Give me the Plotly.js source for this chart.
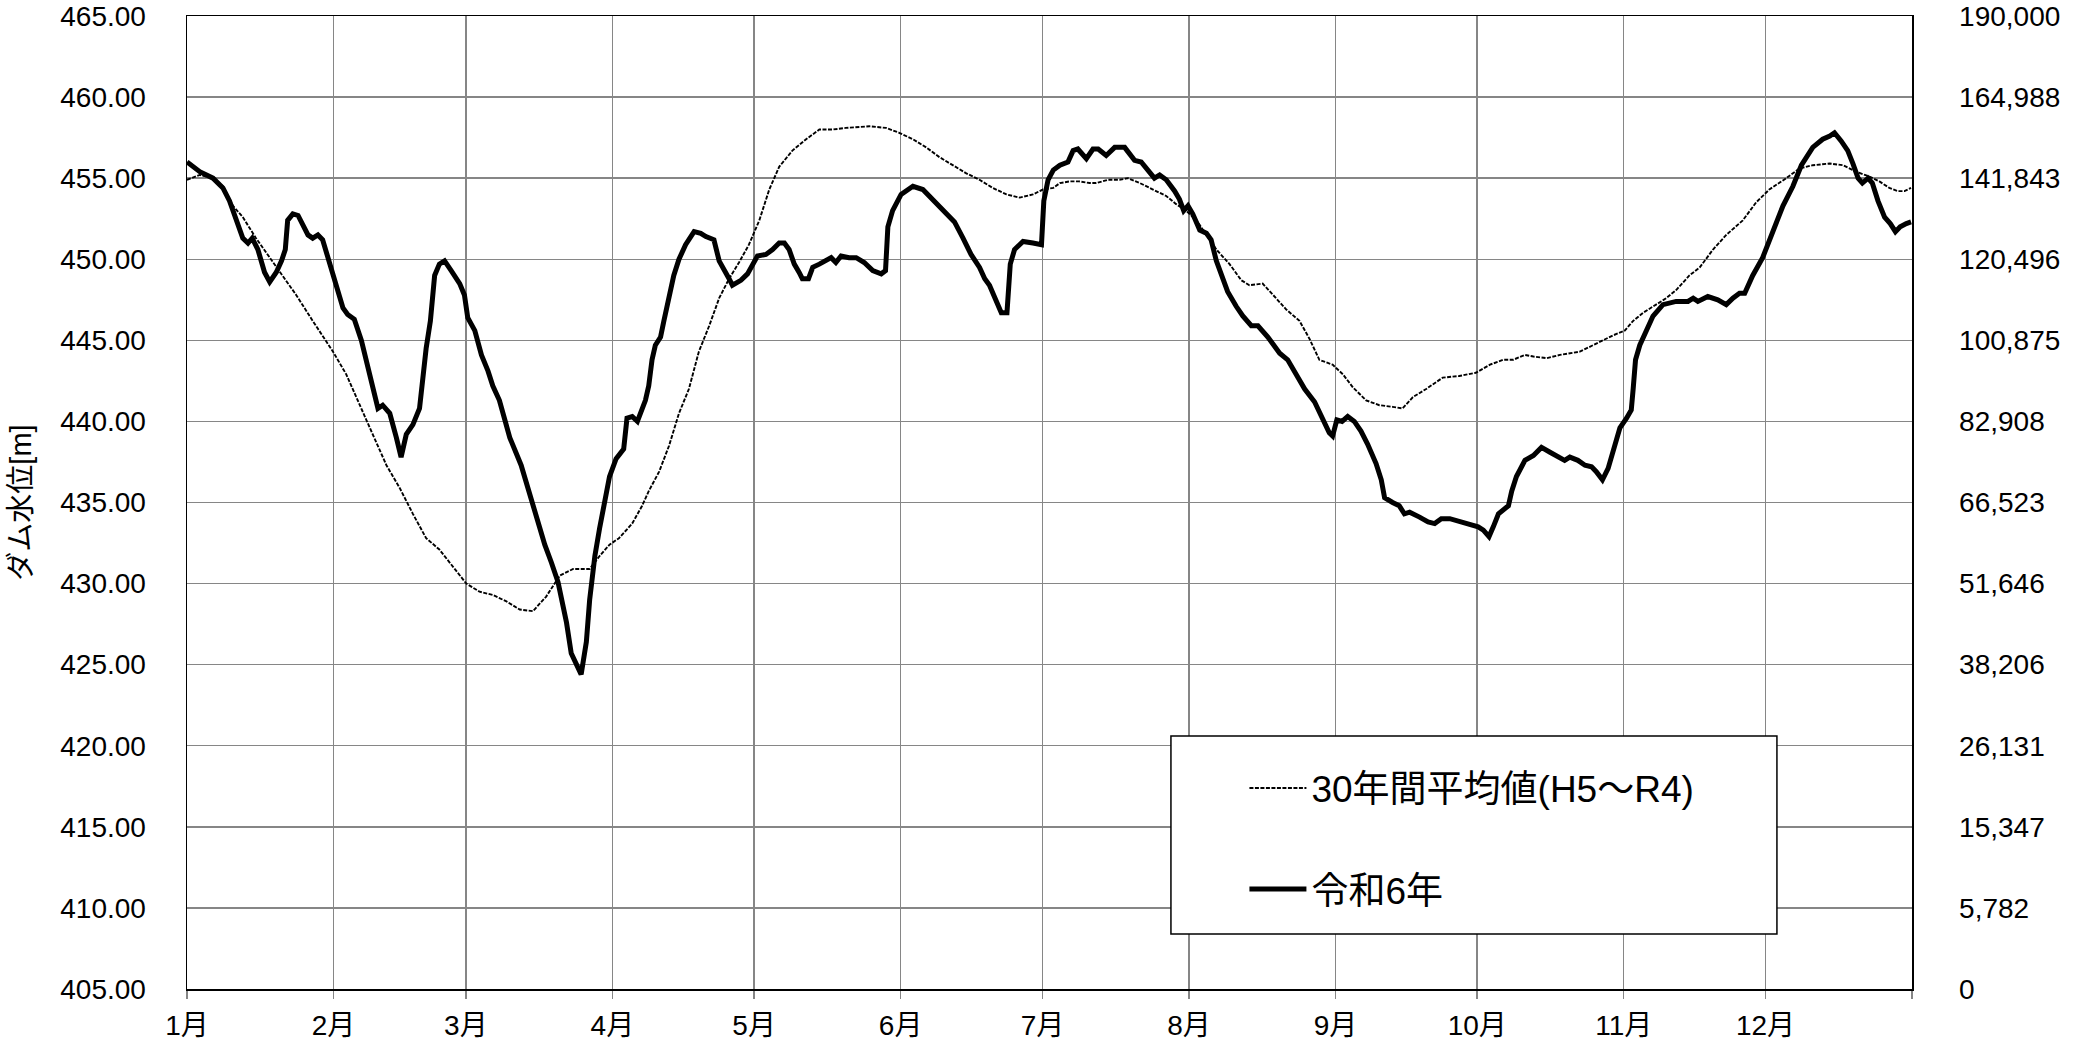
<!DOCTYPE html>
<html>
<head>
<meta charset="utf-8">
<script src="https://cdn.plot.ly/plotly-3.0.1.min.js"></script>
<style>html,body{margin:0;padding:0;background:#fff;}#chart{width:2082px;height:1047px;}</style>
</head>
<body>
<div id="chart"></div>
<script>
// Day index (0 = 1月1日) and dam water level [m]
const avgName = "30年間平均値(H5～R4)";
const avgDays = [0,2.7,5.5,7.6,9.7,11.8,14.6,17.5,19.6,23.1,26.6,30.9,33.7,36.5,39.3,42.2,45.0,47.8,50.6,53.4,56.3,59.1,61.9,64.7,67.6,70.4,73.2,76.0,78.9,81.7,85.2,87.3,89.4,91.4,94.2,96.3,97.7,99.9,102.0,104.1,106.2,108.3,110.5,112.6,114.7,116.8,118.9,121.1,123.2,125.3,128.1,131.0,133.8,136.6,139.4,144.4,147.9,150.7,153.6,156.4,159.2,162.1,164.9,167.7,170.5,173.4,176.2,179.0,181.1,183.3,184.7,186.8,188.8,191.0,192.4,194.9,197.3,199.1,201.6,204.4,207.2,209.3,211.4,213.6,215.7,217.8,220.6,223.1,224.8,227.6,229.8,232.6,235.4,237.5,239.6,242.4,244.6,246.7,249.5,252.3,255.1,257.2,259.4,262.2,265.7,269.2,272.7,275.7,278.5,280.6,283.1,284.9,287.7,290.5,294.7,296.8,299.3,301.7,304.2,306.0,308.1,310.2,313.0,315.1,317.9,320.1,322.9,325.7,329.2,332.0,334.8,338.4,341.2,344.0,347.6,350.4,353.2,356.0,358.1,360.2,362.0,363.4,364.8];
const avgLevel = [454.9,455.2,455.0,454.5,453.3,452.6,451.3,450.1,449.3,447.8,446.2,444.3,442.9,441.0,439.2,437.3,435.9,434.3,432.8,432.1,431.0,430.0,429.5,429.3,428.9,428.4,428.3,429.2,430.5,430.9,430.9,431.7,432.4,432.8,433.7,434.8,435.7,436.9,438.5,440.5,442.0,444.3,445.9,447.6,448.8,449.8,450.9,452.4,454.3,455.7,456.7,457.4,458.0,458.0,458.1,458.2,458.1,457.8,457.4,456.9,456.3,455.8,455.3,454.9,454.4,454.0,453.8,454.0,454.3,454.4,454.7,454.8,454.8,454.7,454.7,454.9,454.9,455.0,454.7,454.3,453.9,453.4,453.0,452.4,451.5,450.6,449.7,448.7,448.4,448.5,447.8,446.9,446.2,445.1,443.8,443.5,442.9,442.1,441.3,441.0,440.9,440.8,441.5,442.0,442.7,442.8,443.0,443.5,443.8,443.8,444.1,444.0,443.9,444.1,444.3,444.6,445.0,445.3,445.6,446.2,446.7,447.1,447.6,448.1,449.0,449.5,450.6,451.5,452.4,453.5,454.3,455.0,455.6,455.8,455.9,455.8,455.4,455.1,454.8,454.4,454.2,454.2,454.4];

const r6Name = "令和6年";
const r6Days = [0,2.7,5.5,7.6,9.0,10.7,11.8,12.9,13.8,15.0,16.4,17.5,18.9,20.0,20.8,21.3,22.4,23.5,24.5,25.6,26.6,27.7,28.7,29.8,31.2,33.0,34.0,35.4,36.9,38.6,40.4,41.4,42.9,44.3,45.3,46.4,47.8,49.2,49.9,50.6,51.5,52.4,53.4,54.5,55.9,57.7,58.7,59.4,60.9,62.3,63.7,64.7,66.1,68.3,70.7,72.1,74.3,75.7,77.1,78.5,80.3,81.3,83.4,84.5,85.2,86.3,87.3,88.4,89.4,90.8,92.4,93.1,94.2,95.3,97.0,97.7,98.4,99.1,100.2,100.9,102.0,103.0,104.1,105.5,107.3,108.7,109.8,111.5,112.6,113.6,114.7,115.4,117.2,118.6,119.6,120.7,122.5,123.9,125.3,126.4,127.4,128.5,129.5,130.2,131.5,132.4,133.8,135.2,136.3,137.3,138.4,140.1,141.6,143.3,145.1,146.9,147.8,148.3,149.3,151.1,153.6,155.7,157.4,159.2,161.0,162.4,164.2,165.9,167.7,168.8,169.8,171.3,172.3,173.5,174.2,175.1,176.9,179.0,180.8,181.3,182.2,183.3,184.7,186.4,187.5,188.5,190.3,191.7,192.8,194.5,196.3,198.4,200.5,201.9,203.3,204.7,205.8,207.2,209.0,210.0,210.9,211.8,212.8,214.3,215.7,216.7,217.8,218.8,220.2,222.0,223.4,225.2,226.6,228.7,231.2,232.9,234.7,236.5,238.6,240.3,241.7,242.4,243.3,244.4,245.6,247.0,248.4,249.8,251.6,252.7,253.4,255.1,256.5,257.6,258.7,260.8,262.6,264.0,265.4,267.2,269.3,271.4,273.2,274.3,275.5,276.4,277.5,279.6,280.3,281.3,283.1,284.9,286.6,288.4,290.1,291.5,292.6,294.3,295.8,297.2,298.2,299.5,300.7,301.7,303.2,304.6,305.6,306.0,306.5,307.4,308.8,310.2,312.3,315.1,317.6,318.7,319.7,321.8,323.9,325.7,327.1,328.5,329.6,331.3,333.4,335.6,337.7,339.8,341.6,344.0,346.1,347.6,348.6,350.0,351.4,352.5,353.6,354.5,355.7,356.6,357.8,359.2,360.4,361.5,362.5,363.8,364.8];
const r6Level = [456.0,455.4,455.0,454.4,453.6,452.2,451.3,451.0,451.3,450.6,449.2,448.6,449.2,449.9,450.6,452.4,452.8,452.7,452.2,451.5,451.3,451.5,451.2,450.1,448.7,447.0,446.6,446.3,445.0,442.9,440.8,441.0,440.5,439.0,437.8,439.2,439.8,440.8,442.9,444.5,446.2,449.0,449.7,449.9,449.3,448.5,447.8,446.4,445.6,444.1,443.1,442.2,441.3,439.0,437.3,435.9,433.8,432.4,431.3,430.1,427.6,425.7,424.4,426.4,429.0,431.7,433.4,435.3,436.6,437.7,438.3,440.2,440.3,440.0,441.3,442.2,443.8,444.7,445.2,446.2,447.6,449.0,450.0,450.9,451.7,451.6,451.4,451.2,449.9,449.3,448.8,448.4,448.7,449.1,449.7,450.2,450.3,450.6,451.0,451.0,450.6,449.7,449.2,448.8,448.8,449.5,449.7,449.9,450.1,449.8,450.2,450.1,450.1,449.8,449.3,449.1,449.3,452.0,453.0,454.0,454.5,454.3,453.8,453.3,452.8,452.3,451.3,450.3,449.5,448.8,448.4,447.3,446.7,446.7,449.7,450.6,451.1,451.0,450.9,453.6,454.9,455.5,455.8,456.0,456.7,456.8,456.2,456.8,456.8,456.4,456.9,456.9,456.1,456.0,455.5,455.0,455.2,454.9,454.2,453.7,453.0,453.3,452.8,451.8,451.6,451.2,449.9,449.1,448.0,447.1,446.5,445.9,445.9,445.2,444.2,443.8,442.9,442.0,441.2,440.1,439.3,439.1,440.1,440.0,440.3,440.0,439.4,438.6,437.4,436.4,435.3,435.0,434.8,434.3,434.4,434.1,433.8,433.7,434.0,434.0,433.8,433.6,433.5,433.3,432.9,433.5,434.3,434.8,435.7,436.6,437.6,437.9,438.4,438.1,437.8,437.6,437.8,437.6,437.3,437.2,436.9,436.4,437.1,438.1,439.6,440.2,440.7,442.0,443.8,444.7,445.7,446.5,447.2,447.4,447.4,447.6,447.4,447.7,447.5,447.2,447.6,447.9,447.9,449.0,450.1,451.7,453.3,454.5,455.8,456.9,457.4,457.6,457.8,457.3,456.7,455.9,455.0,454.7,455.0,454.7,453.6,452.6,452.2,451.7,452.0,452.2,452.3];

// Axis ticks
const monthStarts = [0,31,59,90,120,151,181,212,243,273,304,334,365];
const monthLabels = ["1月","2月","3月","4月","5月","6月","7月","8月","9月","10月","11月","12月",""];
const levelTicks = [405,410,415,420,425,430,435,440,445,450,455,460,465];
const capacityLabels = ["0","5,782","15,347","26,131","38,206","51,646","66,523","82,908","100,875","120,496","141,843","164,988","190,000"];

const FONT = "'Liberation Sans', 'Noto Sans CJK JP', sans-serif";
const GRID = "#868686";
const yRange = [404.999, 465.001];

const traces = [
  {x: avgDays, y: avgLevel, name: avgName, type: "scatter", mode: "lines",
   line: {color: "#000", width: 1.9, dash: "4px,1.5px"}, legendgroup: "a"},
  {x: r6Days, y: r6Level, name: r6Name, type: "scatter", mode: "lines", yaxis: "y2",
   line: {color: "#000", width: 5}, legendgroup: "b"}
];

const layout = {
  width: 2082, height: 1047,
  margin: {l: 187, r: 170, t: 16, b: 58},
  paper_bgcolor: "#fff", plot_bgcolor: "#fff",
  font: {family: FONT, color: "#000", size: 28},
  showlegend: true,
  legend: {x: 0.613, y: 0.238, xanchor: "left", yanchor: "top",
           bgcolor: "rgba(0,0,0,0)", borderwidth: 0, itemwidth: 57,
           font: {family: FONT, size: 37, color: "#000"},
           traceorder: "grouped", tracegroupgap: 50},
  xaxis: {range: [0, 365], tickmode: "array", tickvals: monthStarts, ticktext: monthLabels,
          showgrid: true, gridcolor: GRID, gridwidth: 1.5,
          showline: true, linecolor: "#000", linewidth: 1.5, mirror: true,
          ticks: "outside", ticklen: 8, tickcolor: GRID, tickwidth: 1.5,
          zeroline: false, ticklabelstandoff: 3,
          tickfont: {family: FONT, size: 28, color: "#000"}},
  yaxis: {range: yRange, tickmode: "array", tickvals: levelTicks, tickformat: ".2f",
          showgrid: true, gridcolor: GRID, gridwidth: 1.5,
          showline: true, linecolor: "#000", linewidth: 1.5,
          ticks: "", zeroline: false, ticklabelstandoff: 34, ticklabeloverflow: "allow",
          tickfont: {family: FONT, size: 28, color: "#000"},
          title: {text: "ダム水位[m]", font: {family: FONT, size: 29, color: "#000"}, standoff: 20}},
  yaxis2: {range: yRange, overlaying: "y", side: "right", tickmode: "array",
           tickvals: levelTicks, ticktext: capacityLabels,
           showgrid: false, showline: true, linecolor: "#000", linewidth: 1.5,
           ticks: "", zeroline: false, ticklabelstandoff: 40, ticklabeloverflow: "allow",
           tickfont: {family: FONT, size: 28, color: "#000"}},
  shapes: [
    {type: "rect", xref: "paper", yref: "paper", x0: 0.5704, x1: 0.9217, y0: 0.0565, y1: 0.26,
     fillcolor: "#fff", line: {color: "#000", width: 1.5}, layer: "above"}
  ]
};

Plotly.newPlot("chart", traces, layout, {displayModeBar: false, staticPlot: true});
</script>
</body>
</html>
